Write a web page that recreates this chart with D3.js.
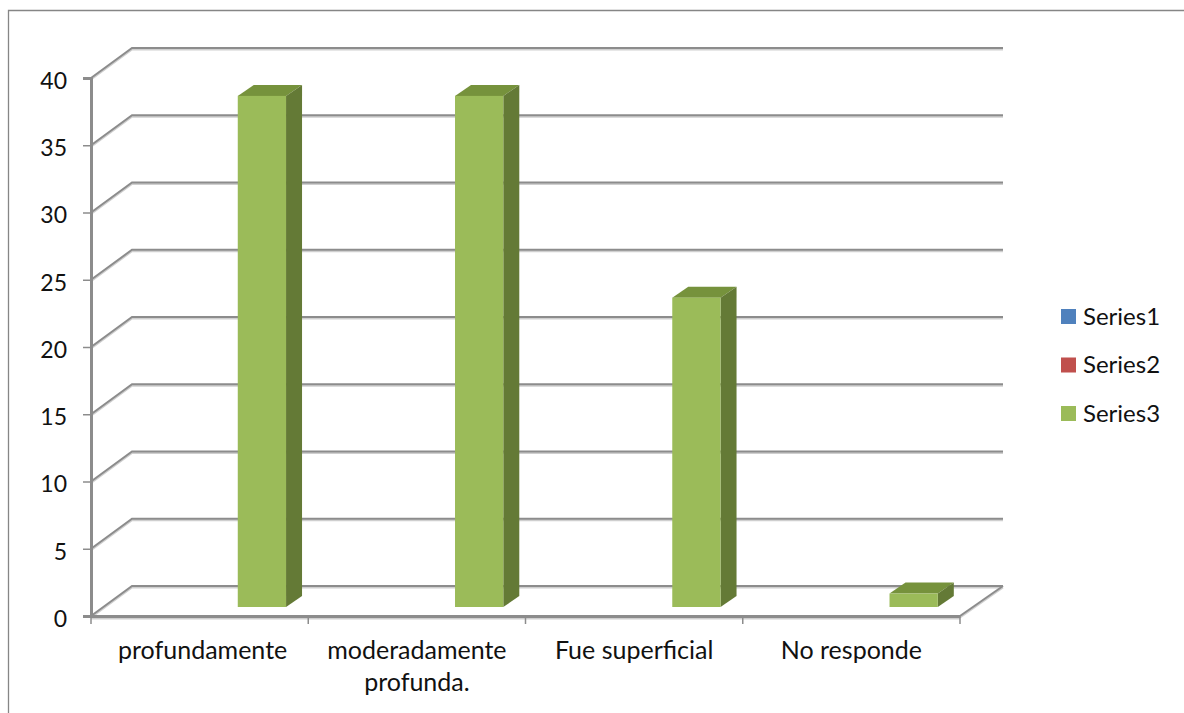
<!DOCTYPE html>
<html>
<head>
<meta charset="utf-8">
<script src="https://cdn.jsdelivr.net/npm/d3@7"></script>
<style>
  html, body { margin: 0; padding: 0; background: #fff; overflow: hidden; }
  text { font-family: Lato, "Open Sans", sans-serif; fill: #111; }
</style>
</head>
<body>
<div id="container"></div>
<script>
/* DATA */
const categories = ["profundamente", "moderadamente profunda.", "Fue superficial", "No responde"];
const seriesNames = ["Series1", "Series2", "Series3"];
const series3 = [38, 38, 23, 1];
const yTicks = [0, 5, 10, 15, 20, 25, 30, 35, 40];
const legendColors = ["#4f81bd", "#c0504d", "#9bbb59"];

/* CONSTANTS AND GLOBALS */
const width = 1184;
const height = 713;
const gridColor = "#8c8c8c";
const shadowColor = "#cfcfcf";
const depth = { x: 41, y: -30 };       // wall offset of the 3d floor
const backRight = 1003;                // right end of the back wall
const barFront = { x: 14, y: -9 };     // front of the bars inside the floor
const barSide = { x: 16, y: -11 };     // bar thickness going back

/* SCALES */
const xScale = d3.scaleBand().domain(categories).range([91, 960]);
const yScale = d3.scaleLinear().domain([0, 40]).range([616, 78]);
const barHeight = d3.scaleLinear().domain([0, 40]).range([0, 538]);
const xSeries = d3.scaleBand()
  .domain(seriesNames)
  .range([0, xScale.bandwidth()])
  .paddingInner(0)
  .paddingOuter(0.75);

/* SVG ELEMENT */
const svg = d3.select("#container")
  .append("svg")
  .attr("width", width)
  .attr("height", height);

// outer frame, runs off the bottom and the right of the picture
svg.append("path")
  .attr("d", `M8.5,${height}V10.5H${width}`)
  .attr("fill", "none")
  .attr("stroke", "#868686")
  .attr("stroke-width", 1.3);

/* GRID */
const grid = svg.append("g").attr("fill", "none");

function gridLine(d) {
  grid.append("path")
    .attr("d", d)
    .attr("transform", "translate(0,1.5)")
    .attr("stroke", shadowColor)
    .attr("stroke-width", 2);
  grid.append("path")
    .attr("d", d)
    .attr("stroke", gridColor)
    .attr("stroke-width", 2);
}

yTicks.forEach(t => {
  const y = yScale(t);
  gridLine(`M91,${y}L${91 + depth.x},${y + depth.y}H${backRight}`);
});
gridLine(`M960,616L${backRight},${616 + depth.y}`);

/* BARS */
const bars = svg.append("g");
categories.forEach((c, i) => {
  const x = xScale(c) + xSeries("Series3") + barFront.x;
  const w = xSeries.bandwidth();
  const yBase = 616 + barFront.y;
  const yTop = yBase - barHeight(series3[i]);
  const g = bars.append("g");
  g.append("path")
    .attr("fill", "#76923c")
    .attr("d", `M${x},${yTop}l${barSide.x},${barSide.y}h${w}l${-barSide.x},${-barSide.y}z`);
  g.append("path")
    .attr("fill", "#647a36")
    .attr("d", `M${x + w},${yTop}l${barSide.x},${barSide.y}V${yBase + barSide.y}l${-barSide.x},${-barSide.y}z`);
  g.append("rect")
    .attr("x", x)
    .attr("y", yTop)
    .attr("width", w)
    .attr("height", yBase - yTop)
    .attr("fill", "#9bbb59");
});

/* AXIS */
const xAxis = d3.axisBottom(xScale).tickSize(0).tickFormat("");
const yAxis = d3.axisLeft(yScale).tickValues(yTicks).tickSize(8).tickPadding(16);

svg.append("line")
  .attr("x1", 91).attr("x2", 960)
  .attr("y1", 618).attr("y2", 618)
  .attr("stroke", shadowColor)
  .attr("stroke-width", 3);

const xG = svg.append("g")
  .attr("transform", "translate(0,616)")
  .call(xAxis);
xG.select(".domain").attr("stroke", gridColor).attr("stroke-width", 3);
xG.selectAll(".tick").remove();
xScale.domain().concat(["end"]).forEach((c, i) => {
  const x = 91 + i * xScale.step();
  xG.append("line")
    .attr("x1", x).attr("x2", x)
    .attr("y1", 0).attr("y2", 8)
    .attr("stroke", gridColor)
    .attr("stroke-width", 1.5);
});

const yG = svg.append("g")
  .attr("transform", "translate(91,0)")
  .call(yAxis);
yG.select(".domain").attr("stroke", gridColor).attr("stroke-width", 3);
yG.selectAll(".tick line").attr("stroke", gridColor).attr("stroke-width", 1.5);
yG.selectAll(".tick text")
  .style("font-size", "23px")
  .attr("dy", "0.45em");

/* CATEGORY LABELS */
const labelLines = categories.map(c => c === "moderadamente profunda." ? ["moderadamente", "profunda."] : [c]);
categories.forEach((c, i) => {
  const t = svg.append("text")
    .attr("text-anchor", "middle")
    .style("font-size", "25px");
  labelLines[i].forEach((line, j) => {
    t.append("tspan")
      .attr("x", xScale(c) + xScale.bandwidth() / 2 + (i === 0 ? 3 : 0))
      .attr("y", 659 + j * 32)
      .text(line);
  });
});

/* LEGEND */
const legendY = d3.scalePoint().domain(seriesNames).range([316.5, 413.5]);
seriesNames.forEach((name, i) => {
  svg.append("rect")
    .attr("x", 1061)
    .attr("y", legendY(name) - 7.5)
    .attr("width", 15)
    .attr("height", 15)
    .attr("fill", legendColors[i]);
  svg.append("text")
    .attr("x", 1083)
    .attr("y", legendY(name) + 8)
    .style("font-size", "24px")
    .text(name);
});
</script>
</body>
</html>
